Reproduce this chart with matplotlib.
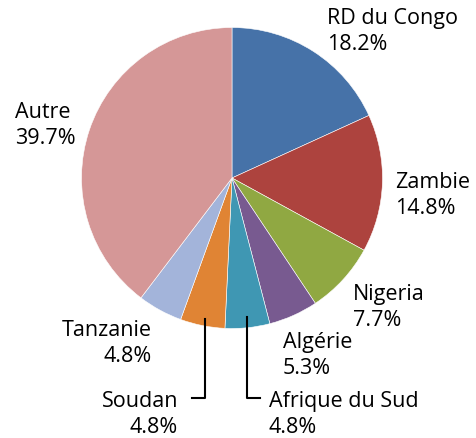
import matplotlib.pyplot as plt

# --- Data ---
countries = ['RD du Congo', 'Zambie', 'Nigeria', 'Algérie', 'Afrique du Sud',
             'Soudan', 'Tanzanie', 'Autre']
shares = [18.2, 14.8, 7.7, 5.3, 4.8, 4.8, 4.8, 39.7]
colors = ['#4672A8', '#AD433E', '#90A842', '#785A90', '#3F97B3',
          '#E08434', '#A3B4DA', '#D59797']

# label anchor (x, baseline of first line) in image pixels, and alignment
label_pos = [(327, 24, 'left'), (395, 188, 'left'), (353, 300, 'left'),
             (283, 348, 'left'), (269, 407, 'left'), (178, 407, 'right'),
             (152, 336, 'right'), (15, 118, 'left')]

W, H = 476, 439
plt.rcParams['font.family'] = ['Open Sans', 'DejaVu Sans']

fig = plt.figure(figsize=(W / 100, H / 100), dpi=100)
ax = fig.add_axes([0, 0, 1, 1])

ax.pie(shares, colors=colors, startangle=90, counterclock=False,
       center=(232, H - 179), radius=150.5, frame=True,
       wedgeprops=dict(edgecolor='white', linewidth=0.4))

fs = 15.5
for name, val, (x, y, ha) in zip(countries, shares, label_pos):
    ax.text(x, H - y, name, ha=ha, va='baseline', fontsize=fs, color='black')
    ax.text(x, H - y - 26, f'{val:.1f}%', ha=ha, va='baseline', fontsize=fs, color='black')

# leader lines for the two small slices at the bottom
ax.plot([205, 205, 192], [H - 320, H - 399, H - 399], color='black', lw=1.5)
ax.plot([247, 247, 260], [H - 318, H - 399, H - 399], color='black', lw=1.5)

ax.set_xlim(0, W)
ax.set_ylim(0, H)
ax.set_aspect('equal')
ax.axis('off')

fig.savefig('out.png', dpi=100)
